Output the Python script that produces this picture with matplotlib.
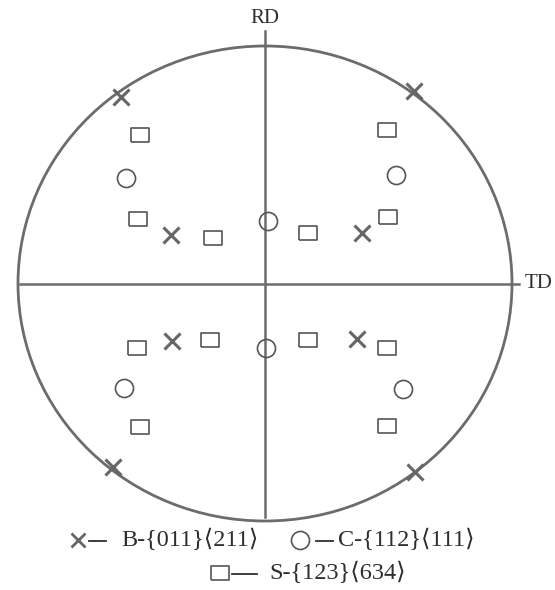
import numpy as np
import matplotlib.pyplot as plt
from matplotlib.patches import Ellipse

plt.rcParams['font.family'] = ['Liberation Serif', 'DejaVu Serif']

# texture components on the {111} pole figure (RD up, TD right), unit-circle coords
b_x = [-0.583, 0.603, -0.381, 0.393, -0.377, 0.372, -0.615, 0.607]
b_y = [0.785, 0.811, 0.204, 0.213, -0.242, -0.234, -0.773, -0.794]

c_x = [-0.563, 0.530, 0.012, 0.004, -0.571, 0.559]
c_y = [0.444, 0.457, 0.263, -0.272, -0.440, -0.444]

s_x = [-0.506, 0.494, -0.514, 0.498, -0.211, 0.174,
       -0.518, -0.223, 0.174, 0.494, -0.506, 0.494]
s_y = [0.625, 0.646, 0.272, 0.280, 0.192, 0.213,
       -0.272, -0.238, -0.238, -0.272, -0.604, -0.600]

labels = ['B-{011}⟨211⟩', 'C-{112}⟨111⟩', 'S-{123}⟨634⟩']

line_col = '#6c6c6c'
mark_col = '#555555'
text_col = '#2e2e2e'

# flat rectangle marker for S
rect = [(-1, -0.82), (1, -0.82), (1, 0.82), (-1, 0.82), (-1, -0.82)]

W, H = 555, 590
fig = plt.figure(figsize=(W / 100, H / 100), dpi=100)
fig.patch.set_facecolor('white')

# pole figure axes (slightly squashed vertically, like the printed figure)
cx, cy, rx, ry = 265, 283.5, 247, 237.5
lim = 1.05
ax = fig.add_axes([(cx - lim * rx) / W, (H - cy - lim * ry) / H,
                   2 * lim * rx / W, 2 * lim * ry / H])
ax.set_xlim(-lim, lim)
ax.set_ylim(-lim, lim)
ax.axis('off')

ax.add_patch(Ellipse((0, 0), 2, 2, fill=False, ec=line_col, lw=2.0))
ax.plot([-0.99, 1.03], [0, 0], color=line_col, lw=1.8, clip_on=False)
ax.plot([0.0, 0.0], [1.065, -0.985], color=line_col, lw=1.8, clip_on=False)

ax.plot(b_x, b_y, ls='none', marker='x', ms=11.5, mew=2.2, color='#666666', clip_on=False)
ax.plot(c_x, c_y, ls='none', marker='o', ms=13, mew=1.2, mfc='none', mec=mark_col)
ax.plot(s_x, s_y, ls='none', marker=rect, ms=13, mew=1.2, mfc='none', mec=mark_col)

ax.text(0.0, 1.075, 'RD', ha='center', va='bottom', fontsize=15, color=text_col)
ax.text(1.05, 0.0, 'TD', ha='left', va='center', fontsize=15, color=text_col)

# legend block in pixel coordinates: marker x, dash span, text start, row y
lg = fig.add_axes([0, 0, 1, 1])
lg.set_xlim(0, W)
lg.set_ylim(H, 0)
lg.axis('off')

rows = [(78, (89, 106), 121, 540, 'x', labels[0]),
        (300, (316, 333), 338, 540, 'o', labels[1]),
        (220, (232, 257), 269, 573, rect, labels[2])]
for mx, (d0, d1), tx, my, mk, lab in rows:
    if mk == 'x':
        lg.plot(mx, my, marker='x', ms=10.5, mew=2.0, color='#666666')
    else:
        lg.plot(mx, my, marker=mk, ms=13, mew=1.2, mfc='none', mec=mark_col)
    lg.plot([d0, d1], [my + 1, my + 1], color=text_col, lw=1.3)
    lg.text(tx, my, lab, ha='left', va='center', fontsize=17.5, color=text_col)

fig.savefig('out.png', dpi=100, facecolor='white')
